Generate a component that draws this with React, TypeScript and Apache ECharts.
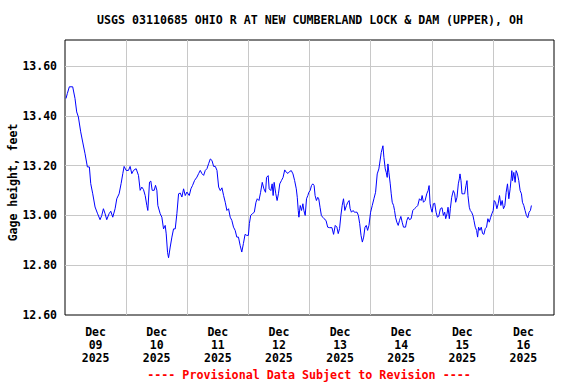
import React, { useEffect, useRef } from "react";
import * as echarts from "echarts";

const TITLE = "USGS 03110685 OHIO R AT NEW CUMBERLAND LOCK & DAM (UPPER), OH";
const Y_NAME = "Gage height, feet";
const FOOTNOTE = "---- Provisional Data Subject to Revision ----";
const DAY_LABELS = ["Dec\n09\n2025", "Dec\n10\n2025", "Dec\n11\n2025", "Dec\n12\n2025", "Dec\n13\n2025", "Dec\n14\n2025", "Dec\n15\n2025", "Dec\n16\n2025"];

// hours since Dec 09 2025 00:00
const hours = [
  0.39, 0.92, 1.7, 3.02, 3.93, 4.59, 5.25, 6.16, 6.95, 7.87, 8.79, 9.57, 10.1, 10.89, 11.8, 12.72, 13.77, 14.43, 15.08, 15.74,
  16.39, 17.31, 17.97, 18.75, 19.67, 20.33, 21.25, 22.03, 22.69, 23.21, 24.0, 24.92, 25.57, 26.23, 26.89, 27.93, 28.85, 29.51, 30.16, 30.82,
  31.48, 32.13, 32.52, 33.18, 33.7, 34.23, 35.02, 35.54, 36.07, 36.46, 37.38, 38.03, 38.69, 39.34, 39.74, 40.26, 40.66, 41.31, 41.97, 42.62,
  43.28, 43.93, 44.59, 45.25, 45.9, 46.56, 47.21, 47.87, 48.79, 49.44, 50.1, 50.89, 51.8, 52.46, 53.11, 53.77, 54.43, 55.08, 55.74, 56.39,
  57.05, 57.7, 58.36, 59.02, 59.67, 60.33,
  60.97, 61.62, 62.27, 62.92, 63.57, 64.22, 64.87, 65.51, 66.16, 66.81, 67.46, 68.11, 68.76, 69.41, 70.05, 70.7, 71.35, 72.0, 72.39, 72.91,
  73.56, 74.33, 74.98, 75.5, 76.15, 76.8, 77.45, 78.1, 78.74, 79.13, 79.78, 80.17, 80.82, 81.34, 81.73, 82.12, 82.77, 83.28, 83.8, 84.32,
  84.97, 85.62, 86.27, 86.92, 87.56, 88.21, 88.86, 89.51, 90.16, 90.81, 91.2, 91.58, 91.84, 92.36, 92.88, 93.4, 93.79, 94.31, 94.83, 95.35,
  95.74, 96.25, 96.77, 97.29, 97.81, 98.2, 98.72, 99.24, 99.63, 100.14, 100.66, 101.18, 101.7, 102.48, 103.13, 103.78, 104.81, 105.46, 106.11, 106.76,
  107.28, 107.8, 108.32, 108.83, 109.35, 109.87, 110.52, 111.04, 111.56, 111.95, 112.47, 113.12, 113.63, 114.15, 114.67, 115.19, 115.71, 116.23, 116.75, 117.27,
  117.79, 118.3, 118.82, 119.34, 119.99, 120.64, 121.29, 121.94, 122.59, 123.23,
  123.52, 124.17, 124.83, 125.22, 125.74, 126.13, 126.52, 126.78, 127.17, 127.7, 128.09, 128.48, 129.0, 129.39, 129.78, 130.3, 130.83, 131.35, 131.87, 132.39,
  132.91, 133.7, 134.22, 134.74, 135.26, 135.91, 136.57, 137.22, 137.87, 138.52, 139.17, 139.83, 140.22, 140.74, 141.39, 142.04, 142.57, 142.96, 143.35, 143.74,
  144.13, 144.65, 145.17, 145.7, 146.22, 146.74, 147.39, 148.04, 148.57, 149.09, 149.48, 150.0, 150.39, 150.91, 151.3, 151.83, 152.48, 153.0, 153.39, 153.91,
  154.43, 154.83, 155.09, 155.48, 155.87, 156.39, 156.91, 157.43, 157.83, 158.22, 158.74, 159.13, 159.65, 160.17, 160.57, 161.09, 161.61, 162.0, 162.39, 162.91,
  163.43, 163.96, 164.48, 165.0, 165.52, 166.04, 166.57, 167.09, 167.61, 168.13, 168.52, 169.04, 169.57, 170.09, 170.61, 171.13, 171.65, 172.17, 172.7, 173.22,
  173.74, 174.26, 174.78, 175.17, 175.43, 175.7, 176.22, 176.74, 177.13, 177.65, 178.17, 178.7, 179.22, 179.61, 180.13, 180.65, 181.17, 181.7, 182.22, 182.74,
  183.13,
];

const gageHeight = [
  13.47, 13.49, 13.517, 13.517, 13.47, 13.416, 13.396, 13.336, 13.295, 13.248, 13.195, 13.195, 13.128, 13.087, 13.034, 13.009, 12.983, 13.0, 13.027, 13.007,
  12.983, 13.007, 13.017, 12.993, 13.027, 13.067, 13.087, 13.128, 13.168, 13.197, 13.181, 13.181, 13.197, 13.168, 13.181, 13.188, 13.161, 13.101, 13.114, 13.104,
  13.08, 13.04, 13.02, 13.134, 13.138, 13.101, 13.101, 13.121, 13.101, 13.04, 13.007, 12.993, 12.946, 12.96, 12.926, 12.852, 12.83, 12.873, 12.913, 12.946,
  12.946, 13.007, 13.087, 13.09, 13.074, 13.107, 13.08, 13.094, 13.08, 13.107, 13.121, 13.141, 13.154, 13.168, 13.181, 13.168, 13.161, 13.181, 13.188, 13.208,
  13.227, 13.221, 13.197, 13.197, 13.181, 13.114,
  13.1, 13.111, 13.08, 13.053, 13.02, 13.027, 12.993, 12.98, 12.953, 12.94, 12.913, 12.913, 12.88, 12.853, 12.887, 12.924, 12.92, 12.92, 12.967, 13.0,
  13.007, 13.013, 13.053, 13.067, 13.06, 13.093, 13.133, 13.107, 13.093, 13.153, 13.16, 13.107, 13.1, 13.127, 13.08, 13.133, 13.087, 13.06, 13.087, 13.127,
  13.14, 13.153, 13.183, 13.173, 13.169, 13.177, 13.18, 13.167, 13.14, 13.107, 13.073, 13.02, 12.993, 13.04, 13.02, 13.047, 13.02, 13.0, 13.067, 13.08,
  13.093, 13.1, 13.12, 13.127, 13.12, 13.08, 13.06, 13.073, 13.067, 13.033, 13.0, 12.993, 12.987, 12.98, 12.953, 12.951, 12.951, 12.924, 12.96, 12.953,
  12.927, 12.947, 13.0, 13.04, 13.067, 13.02, 13.04, 13.053, 13.06, 13.027, 13.013, 13.02, 13.013, 13.013, 13.013, 13.0, 12.967, 12.92, 12.893, 12.913,
  12.953, 12.96, 12.94, 12.96, 13.013, 13.04, 13.067, 13.093, 13.167, 13.187,
  13.207, 13.253, 13.28, 13.233, 13.187, 13.173, 13.153, 13.207, 13.173, 13.127, 13.087, 13.053, 13.04, 13.02, 12.993, 12.973, 12.96, 12.98, 12.996, 12.973,
  12.953, 12.953, 12.98, 12.993, 12.983, 12.987, 13.02, 13.027, 13.033, 13.04, 13.067, 13.06, 13.08, 13.053, 13.06, 13.087, 13.1, 13.12, 13.047, 13.027,
  13.013, 13.047, 13.049, 13.013, 12.993, 12.996, 13.027, 13.031, 13.0, 13.013, 12.987, 13.007, 13.033, 12.987, 13.027, 13.073, 13.1, 13.087, 13.053, 13.073,
  13.127, 13.147, 13.167, 13.14, 13.087, 13.087, 13.087, 13.12, 13.14, 13.08, 13.033, 13.02, 13.013, 13.0, 12.98, 12.953, 12.94, 12.913, 12.953, 12.94,
  12.953, 12.927, 12.924, 12.947, 12.953, 12.987, 12.973, 12.991, 13.007, 13.02, 13.06, 13.053, 13.027, 13.047, 13.08, 13.04, 13.06, 13.027, 13.04, 13.093,
  13.127, 13.067, 13.107, 13.147, 13.18, 13.14, 13.173, 13.133, 13.18, 13.167, 13.14, 13.1, 13.087, 13.053, 13.04, 13.02, 13.0, 12.991, 13.013, 13.02,
  13.04,
];

const FONT = "'DejaVu Sans Mono', 'Liberation Mono', monospace";

export default function App() {
  const ref = useRef<HTMLDivElement>(null);
  useEffect(() => {
    if (!ref.current) return;
    const chart = echarts.init(ref.current, null, { renderer: "svg" });
    const data = hours.map((h, i) => [h, gageHeight[i]]);
    chart.setOption({
      animation: false,
      backgroundColor: "#ffffff",
      title: [
        {
          text: TITLE,
          left: 305,
          top: 9,
          padding: 5,
          textAlign: "center",
          textStyle: { fontFamily: FONT, fontSize: 11.6, fontWeight: "bold", color: "#000" },
        },
        {
          text: FOOTNOTE,
          left: 304,
          top: 364,
          padding: 5,
          textAlign: "center",
          textStyle: { fontFamily: FONT, fontSize: 11.7, fontWeight: "bold", color: "#ff0000" },
        },
      ],
      grid: {
        left: 65,
        top: 40,
        right: 22,
        bottom: 69,
        outerBoundsMode: "none",
        containLabel: false,
        show: true,
        borderColor: "#000",
        borderWidth: 1,
        backgroundColor: "transparent",
      },
      xAxis: [
        {
          type: "value",
          min: 0,
          max: 192,
          interval: 24,
          axisLine: { show: false },
          axisTick: { show: false },
          axisLabel: { show: false },
          splitLine: { show: true, showMinLine: false, showMaxLine: false, lineStyle: { color: "#c8c8c8", width: 1 } },
        },
        {
          type: "category",
          data: DAY_LABELS,
          position: "bottom",
          boundaryGap: true,
          axisLine: { show: false },
          axisTick: { show: false },
          splitLine: { show: false },
          axisLabel: {
            margin: 10,
            interval: 0,
            fontFamily: FONT,
            fontSize: 11.5,
            fontWeight: "bold",
            color: "#000",
            lineHeight: 13,
          },
        },
      ],
      yAxis: {
        type: "value",
        min: 12.6,
        max: 13.705,
        interval: 0.2,
        name: Y_NAME,
        nameLocation: "middle",
        nameGap: 46,
        nameMoveOverlap: false,
        nameTextStyle: { fontFamily: FONT, fontSize: 11.5, fontWeight: "bold", color: "#000", padding: [0, 10, 0, 0] },
        axisLine: { show: false },
        axisTick: { show: false },
        axisLabel: {
          showMaxLabel: false,
          margin: 8,
          fontFamily: FONT,
          fontSize: 11.5,
          fontWeight: "bold",
          color: "#000",
          formatter: (v: number) => v.toFixed(2),
        },
        splitLine: { show: true, showMinLine: false, showMaxLine: false, lineStyle: { color: "#c8c8c8", width: 1 } },
      },
      series: [
        {
          type: "line",
          xAxisIndex: 0,
          data,
          showSymbol: false,
          symbol: "none",
          lineStyle: { color: "#0000ff", width: 1 },
          itemStyle: { color: "#0000ff" },
        },
      ],
    });
    return () => chart.dispose();
  }, []);
  return <div ref={ref} style={{ position: "fixed", left: 0, top: 0, width: 576, height: 384 }} />;
}
